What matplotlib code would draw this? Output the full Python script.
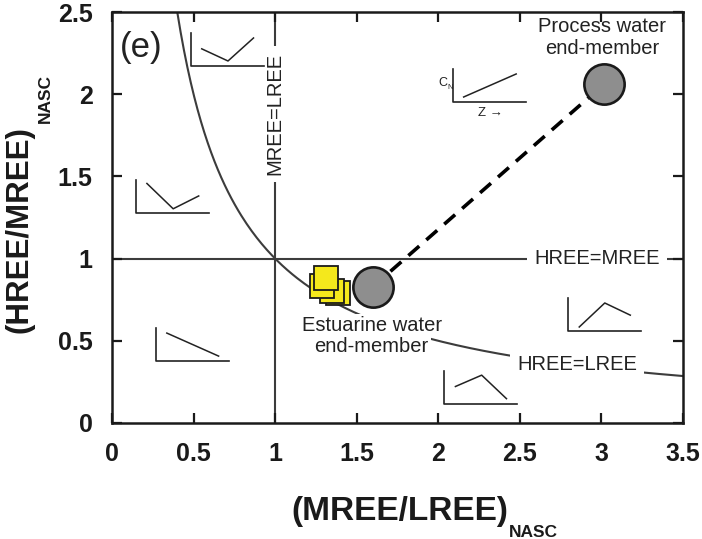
import numpy as np
import matplotlib
matplotlib.use('Agg')
import matplotlib.pyplot as plt

plt.rcParams['font.family'] = ['Liberation Sans', 'DejaVu Sans']

# end-members (MREE/LREE, HREE/MREE)
estuarine = (1.597, 0.827)
process = (3.017, 2.062)

# estuarine water samples (yellow squares), back to front
sq_x = [1.383, 1.346, 1.285, 1.310]
sq_y = [0.791, 0.803, 0.833, 0.882]

xticks = [0, 0.5, 1, 1.5, 2, 2.5, 3, 3.5]
xtick_labels = ['0', '0.5', '1', '1.5', '2', '2.5', '3', '3.5']
yticks = [0, 0.5, 1, 1.5, 2, 2.5]
ytick_labels = ['0', '0.5', '1', '1.5', '2', '2.5']

# little REE-pattern sketches: lower-left corner and pattern (fractions of box)
sketch_corner = [(0.483, 2.172), (0.147, 1.277), (0.269, 0.377),
                 (2.038, 0.116), (2.797, 0.560), (2.093, 1.953)]
sketch_pattern = [
    [(0.15, 0.52), (0.51, 0.15), (0.86, 0.85)],
    [(0.15, 0.90), (0.51, 0.13), (0.86, 0.52)],
    [(0.15, 0.85), (0.86, 0.15)],
    [(0.15, 0.53), (0.51, 0.875), (0.85, 0.16)],
    [(0.15, 0.12), (0.50, 0.85), (0.85, 0.48)],
    [(0.14, 0.15), (0.86, 0.85)],
]
sk_w, sk_h = 0.447, 0.20

fig = plt.figure(figsize=(7.02, 5.39), dpi=100)
ax = fig.add_axes([112/702, 1-423/539, 571/702, 411/539])
ax.set_xlim(0, 3.5)
ax.set_ylim(0, 2.5)

grey = '#3c3c3c'
white_box = dict(facecolor='white', edgecolor='none', boxstyle='square,pad=0.35')

# reference lines
ax.plot([0, 3.5], [1, 1], color=grey, lw=1.5, zorder=1)
ax.plot([1, 1], [0, 2.5], color=grey, lw=1.5, zorder=1)
xc = np.linspace(0.4, 3.5, 300)
ax.plot(xc, 1/xc, color=grey, lw=1.5, zorder=1)

ax.text(2.974, 1.0, 'HREE=MREE', fontsize=14.5, ha='center', va='center',
        color='#222222', bbox=white_box, zorder=2)
ax.text(1.0, 1.88, 'MREE=LREE', fontsize=14.5, ha='center', va='center',
        rotation=90, color='#222222', bbox=white_box, zorder=2)
ax.text(2.852, 0.353, 'HREE=LREE', fontsize=14.5, ha='center', va='center',
        color='#222222', bbox=white_box, zorder=2)

# mixing line between end-members
ax.plot([estuarine[0], process[0]], [estuarine[1], process[1]], color='black',
        lw=2.6, dashes=(4, 2.6), zorder=3)

ax.plot(sq_x, sq_y, ls='none', marker='s', ms=17.5, mfc='#f4e81c',
        mec='#1a1a1a', mew=1.3, zorder=4)
for p in (estuarine, process):
    ax.plot(p[0], p[1], marker='o', ms=29, mfc='#8e8e8e', mec='#1a1a1a',
            mew=1.9, zorder=5)

tb = dict(facecolor='white', edgecolor='none', boxstyle='square,pad=0.1')
ax.text(1.597, 0.560, 'Estuarine water', fontsize=14.5, ha='center',
        va='baseline', color='#222222', bbox=tb, zorder=2)
ax.text(1.591, 0.432, 'end-member', fontsize=14.5, ha='center',
        va='baseline', color='#222222', bbox=tb, zorder=2)
ax.text(3.005, 2.378, 'Process water', fontsize=14.5, ha='center',
        va='baseline', color='#222222')
ax.text(3.005, 2.245, 'end-member', fontsize=14.5, ha='center',
        va='baseline', color='#222222')
ax.text(0.049, 2.226, '(e)', fontsize=25, ha='left', va='baseline',
        color='#222222')

# REE pattern sketches
for (x0, y0), pat in zip(sketch_corner, sketch_pattern):
    ax.plot([x0, x0, x0 + sk_w], [y0 + sk_h, y0, y0], color='#222222', lw=1.2,
            zorder=2)
    px = [x0 + u*sk_w for u, v in pat]
    py = [y0 + v*sk_h for u, v in pat]
    ax.plot(px, py, color='#222222', lw=1.1, zorder=2)

ax.text(2.056, 2.052, 'C', fontsize=9, ha='right', va='baseline', color='#222222')
ax.text(2.057, 2.030, 'N', fontsize=5.5, ha='left', va='baseline', color='#222222')
ax.text(2.319, 1.886, 'Z \u2192', fontsize=9.5, ha='center', va='center',
        color='#222222')

ax.set_xticks(xticks)
ax.set_xticklabels(xtick_labels)
ax.set_yticks(yticks)
ax.set_yticklabels(ytick_labels)
ax.tick_params(direction='in', length=7, width=1.6, top=True, right=True,
               labelsize=18, pad=14, colors='#1a1a1a')
for lab in ax.get_xticklabels() + ax.get_yticklabels():
    lab.set_fontweight('bold')
for s in ax.spines.values():
    s.set_linewidth(1.8)
    s.set_color('#1a1a1a')

# axis titles with small subscripts
fig.text(291/702, 1-520/539, '(MREE/LREE)', fontsize=24, fontweight='bold',
         ha='left', va='baseline', color='#1a1a1a')
fig.text(509/702, 1-537/539, 'NASC', fontsize=12.5, fontweight='bold',
         ha='left', va='baseline', color='#1a1a1a')
fig.text(28/702, 1-333/539, '(HREE/MREE)', fontsize=22.5, fontweight='bold',
         rotation=90, rotation_mode='anchor', ha='left', va='baseline',
         color='#1a1a1a')
fig.text(50/702, 1-123/539, 'NASC', fontsize=12.5, fontweight='bold',
         rotation=90, rotation_mode='anchor', ha='left', va='baseline',
         color='#1a1a1a')

fig.savefig('out.png', dpi=100)
